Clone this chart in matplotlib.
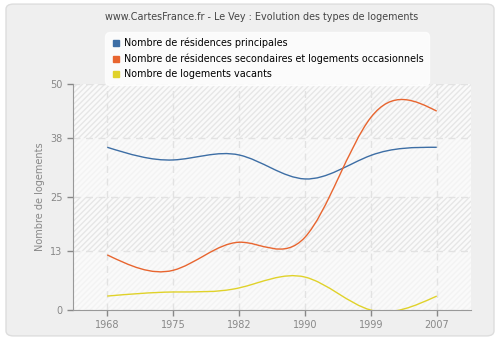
import numpy as np
import matplotlib.pyplot as plt
from matplotlib.path import Path
from matplotlib.patches import PathPatch, FancyBboxPatch

years = ["1968", "1975", "1982", "1990", "1999", "2007"]
principales = [36, 33.2, 34.3, 29, 34.2, 36]
secondaires = [12.2, 8.8, 15, 16.1, 42.6, 44]
vacants = [3.1, 4, 4.9, 7.3, 0, 3.1]
yticks = [0, 13, 25, 38, 50]

labels = ["Nombre de résidences principales",
          "Nombre de résidences secondaires et logements occasionnels",
          "Nombre de logements vacants"]
colors = ["#3d6ea5", "#e8652f", "#e0d22a"]

plt.rcParams["font.family"] = "DejaVu Sans"


def smooth_path(xs, ys):
    # natural cubic spline drawn as bezier segments (equal spacing)
    ys = np.asarray(ys, float)
    n = len(ys)
    A = np.zeros((n, n))
    r = np.zeros(n)
    A[0, 0], A[0, 1], r[0] = 2, 1, 3 * (ys[1] - ys[0])
    A[-1, -2], A[-1, -1], r[-1] = 1, 2, 3 * (ys[-1] - ys[-2])
    for i in range(1, n - 1):
        A[i, i - 1], A[i, i], A[i, i + 1] = 1, 4, 1
        r[i] = 3 * (ys[i + 1] - ys[i - 1])
    m = np.linalg.solve(A, r)
    verts = [(xs[0], ys[0])]
    codes = [Path.MOVETO]
    for i in range(n - 1):
        verts += [(xs[i] + 1 / 3, ys[i] + m[i] / 3),
                  (xs[i + 1] - 1 / 3, ys[i + 1] - m[i + 1] / 3),
                  (xs[i + 1], ys[i + 1])]
        codes += [Path.CURVE4] * 3
    return Path(verts, codes)


fig = plt.figure(figsize=(5, 3.4), dpi=100)
fig.patch.set_facecolor("white")
fig.patches.append(FancyBboxPatch((0.012, 0.012), 0.976, 0.976, boxstyle="round,pad=0,rounding_size=0.015",
                                  transform=fig.transFigure, facecolor="#efefef", edgecolor="#dddddd",
                                  linewidth=1, zorder=-10))

ax = fig.add_axes([0.146, 0.088, 0.796, 0.665])
ax.set_facecolor("#fafafa")
x = np.arange(len(years))
ax.set_xlim(-0.52, 5.52)
ax.set_ylim(0, 50)

# hatched bands alternating with plain ones
for lo, hi, ec in [(38, 50, "#e6e6e6"), (25, 38, "#f3f3f3"), (13, 25, "#e6e6e6"), (0, 13, "#f3f3f3")]:
    ax.axhspan(lo, hi, facecolor="none", edgecolor=ec, hatch="//////", linewidth=0, zorder=0)

for ys, c in zip([principales, secondaires, vacants], colors):
    ax.add_patch(PathPatch(smooth_path(x, ys), facecolor="none", edgecolor=c, linewidth=1, zorder=3))

ax.set_xticks(x)
ax.set_xticklabels(years)
ax.set_yticks(yticks)
ax.tick_params(colors="#888888", labelcolor="#888888", labelsize=7, length=4, width=1)
ax.grid(True, color="#e2e2e2", linestyle=(0, (5, 4)), linewidth=1)
ax.set_axisbelow(True)
for s in ["top", "right"]:
    ax.spines[s].set_visible(False)
for s in ["left", "bottom"]:
    ax.spines[s].set_color("#999999")
ax.set_ylabel("Nombre de logements", color="#888888", fontsize=7)

fig.text(0.524, 0.95, "www.CartesFrance.fr - Le Vey : Evolution des types de logements",
         ha="center", va="center", fontsize=6.9, color="#444444")

handles = [plt.Line2D([], [], marker="s", linestyle="none", color=c, markersize=4) for c in colors]
leg = fig.legend(handles, labels, loc="upper left", bbox_to_anchor=(0.2, 0.92), fontsize=6.9,
                 frameon=True, handletextpad=0.2, labelspacing=0.55, borderpad=0.6, handlelength=1.2)
leg.get_frame().set_facecolor("white")
leg.get_frame().set_edgecolor("white")
leg.get_frame().set_boxstyle("round,pad=0,rounding_size=0.5")

fig.savefig("out.png", dpi=100)
